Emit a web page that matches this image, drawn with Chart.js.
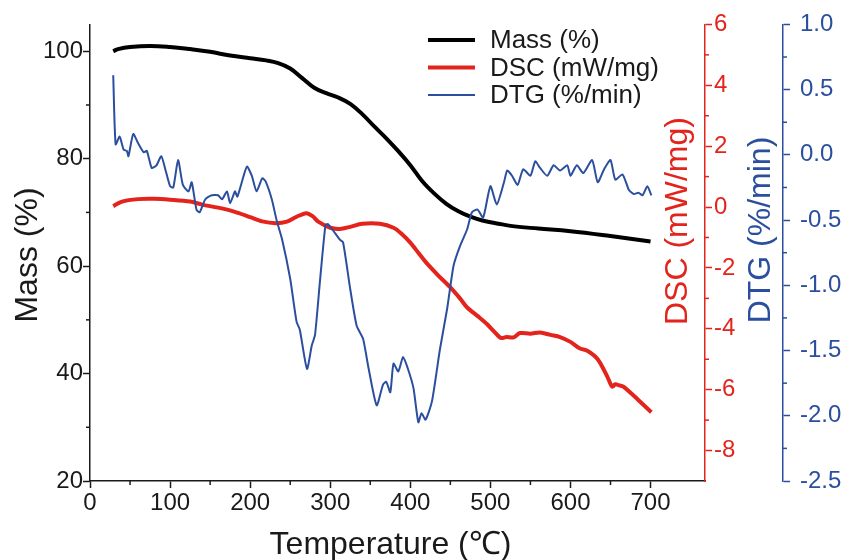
<!DOCTYPE html>
<html>
<head>
<meta charset="utf-8">
<script src="https://cdn.jsdelivr.net/npm/chart.js@4.4.1/dist/chart.umd.min.js"></script>
<style>
html, body { margin: 0; padding: 0; background: #fff; }
</style>
</head>
<body>
<canvas id="tga" width="850" height="560"></canvas>
<script>
// values (temperature in degC)

const massT   = [29, 35, 50, 75, 100, 125, 150, 175, 200, 220, 235, 250, 265, 280, 295, 310, 325, 340, 355, 370, 385, 400, 415, 430, 445, 460, 475, 490, 510, 530, 560, 600, 650, 700];
const massVal = [100.0, 100.4, 100.8, 101.0, 100.8, 100.4, 99.9, 99.2, 98.7, 98.3, 97.8, 96.8, 95.0, 93.2, 92.2, 91.4, 90.2, 88.3, 86.0, 83.8, 81.4, 78.8, 75.8, 73.5, 71.6, 70.2, 69.2, 68.5, 67.9, 67.4, 67.0, 66.5, 65.6, 64.6];

const dscT   = [29, 40, 60, 80, 100, 125, 140, 160, 180, 200, 215, 232, 246, 258, 270, 278, 285, 300, 312, 325, 340, 362, 379, 390, 400, 410, 421, 435, 450, 462, 471, 485, 496, 505, 513, 520, 529, 537, 550, 562, 575, 587, 600, 612, 621, 634, 646, 652, 656, 660, 666, 684, 701];
const dscVal = [0.03, 0.18, 0.26, 0.27, 0.24, 0.18, 0.08, -0.02, -0.15, -0.33, -0.47, -0.53, -0.48, -0.32, -0.2, -0.3, -0.48, -0.68, -0.72, -0.65, -0.55, -0.55, -0.68, -0.9, -1.17, -1.5, -1.86, -2.25, -2.64, -3.0, -3.3, -3.6, -3.85, -4.1, -4.3, -4.27, -4.28, -4.14, -4.16, -4.12, -4.2, -4.27, -4.43, -4.65, -4.72, -5.0, -5.57, -5.9, -5.82, -5.85, -5.9, -6.32, -6.74];

const dtgT   = [29, 32, 37, 42, 46, 48, 54, 60, 67, 71, 77, 83, 89, 94, 100, 104, 110, 116, 123, 127, 133, 137, 144, 152, 160, 165, 171, 175, 181, 184, 190, 196, 202, 208, 215, 219, 227, 233, 240, 250, 258, 262, 271, 277, 281, 287, 294, 297, 306, 312, 316, 325, 333, 341, 348, 358, 366, 370, 375, 379, 385, 391, 397, 404, 410, 414, 419, 427, 437, 446, 454, 462, 471, 477, 484, 491, 500, 508, 517, 521, 527, 534, 541, 550, 556, 562, 571, 579, 587, 596, 600, 608, 616, 627, 634, 642, 650, 656, 665, 673, 679, 685, 690, 696, 701];
const dtgVal = [0.61, 0.08, 0.14, 0.04, 0.03, -0.01, 0.16, 0.09, 0.02, 0.03, -0.1, -0.08, -0.01, -0.11, -0.24, -0.25, -0.04, -0.23, -0.28, -0.21, -0.42, -0.44, -0.34, -0.31, -0.31, -0.34, -0.28, -0.37, -0.28, -0.32, -0.2, -0.09, -0.16, -0.28, -0.18, -0.2, -0.34, -0.5, -0.65, -0.95, -1.28, -1.34, -1.64, -1.46, -1.38, -0.98, -0.54, -0.53, -0.6, -0.65, -0.67, -1.03, -1.31, -1.41, -1.64, -1.92, -1.76, -1.74, -1.82, -1.6, -1.66, -1.55, -1.64, -1.79, -2.05, -1.98, -2.03, -1.89, -1.49, -1.18, -0.85, -0.7, -0.57, -0.44, -0.42, -0.48, -0.24, -0.38, -0.21, -0.12, -0.16, -0.23, -0.11, -0.16, -0.05, -0.1, -0.16, -0.08, -0.12, -0.08, -0.16, -0.08, -0.14, -0.04, -0.21, -0.11, -0.04, -0.19, -0.15, -0.27, -0.3, -0.29, -0.31, -0.24, -0.31];

// tick labels (major) and unlabeled minor ticks
const xTicks    = [0, 100, 200, 300, 400, 500, 600, 700];
const xMinor    = [50, 150, 250, 350, 450, 550, 650];
const massTicks = [20, 40, 60, 80, 100];
const massMinor = [30, 50, 70, 90];
const dscTicks  = [6, 4, 2, 0, -2, -4, -6, -8];
const dscMinor  = [5, 3, 1, -1, -3, -5, -7];
const dtgTicks  = [1.0, 0.5, 0.0, -0.5, -1.0, -1.5, -2.0, -2.5];
const dtgMinor  = [0.75, 0.25, -0.25, -0.75, -1.25, -1.75, -2.25];

const FONT = '"Liberation Sans", Arial, sans-serif';
const INK = '#1a1a1a';
const RED = '#e3241c';
const BLUE = '#2b4f9e';

function pairs(xs, ys) {
	return xs.map((x, i) => ({x: x, y: ys[i]}));
}

function setTicks(list) {
	return function(scale) { scale.ticks = list.map(v => ({value: v})); };
}

function setWidth(w) {
	return function(scale) { scale.width = w; };
}

function axis(color, list, min, max, pos, w, weight, fmt, pad) {
	return {
		type: 'linear', position: pos, min: min, max: max, weight: weight,
		afterBuildTicks: setTicks(list),
		afterFit: setWidth(w),
		border: {display: true, color: color, width: 1.5},
		grid: {drawOnChartArea: false, drawTicks: true, tickLength: 7, color: color, tickWidth: 1.5},
		ticks: {color: color, padding: pad, font: {size: 24, family: FONT}, callback: fmt}
	};
}

// minor ticks, titles and the legend drawn on top
const extras = {
	id: 'extras',
	afterDraw(chart) {
		const ctx = chart.ctx;
		const s = chart.scales;
		ctx.save();
		ctx.lineWidth = 1.5;

		ctx.strokeStyle = INK;
		xMinor.forEach(v => { const p = s.x.getPixelForValue(v); line(ctx, p, s.x.top, p, s.x.top + 4); });
		massMinor.forEach(v => { const p = s.y.getPixelForValue(v); line(ctx, s.y.right - 4, p, s.y.right, p); });
		ctx.strokeStyle = RED;
		dscMinor.forEach(v => { const p = s.y1.getPixelForValue(v); line(ctx, s.y1.left, p, s.y1.left + 4, p); });
		ctx.strokeStyle = BLUE;
		dtgMinor.forEach(v => { const p = s.y2.getPixelForValue(v); line(ctx, s.y2.left, p, s.y2.left + 4, p); });

		// axis titles
		ctx.font = '32px ' + FONT;
		ctx.textAlign = 'center';
		ctx.textBaseline = 'middle';
		ctx.fillStyle = INK;
		ctx.fillText('Temperature (\u2103)', (chart.chartArea.left + chart.chartArea.right) / 2 - 7, s.x.top + 64);
		vtext(ctx, 'Mass (%)', s.y.left + 28, 255, INK);
		vtext(ctx, 'DSC (mW/mg)', s.y1.left - 27, 221, RED);
		vtext(ctx, 'DTG (%/min)', s.y2.left - 22, 230, BLUE);

		// legend
		ctx.font = '26px ' + FONT;
		ctx.textAlign = 'left';
		chart.data.datasets.forEach((d, i) => {
			const y = 40 + i * 27.5;
			ctx.strokeStyle = d.borderColor;
			ctx.lineWidth = d.borderWidth;
			line(ctx, 428, y, 475, y);
			ctx.fillStyle = INK;
			ctx.fillText(d.label, 490, y + 1);
		});
		ctx.restore();
	}
};

function line(ctx, x0, y0, x1, y1) {
	ctx.beginPath();
	ctx.moveTo(x0, y0);
	ctx.lineTo(x1, y1);
	ctx.stroke();
}

function vtext(ctx, txt, x, y, color) {
	ctx.save();
	ctx.translate(x, y);
	ctx.rotate(-Math.PI / 2);
	ctx.fillStyle = color;
	ctx.fillText(txt, 0, 0);
	ctx.restore();
}

new Chart(document.getElementById('tga'), {
	type: 'line',
	data: {
		datasets: [
			{label: 'Mass (%)', data: pairs(massT, massVal), yAxisID: 'y', borderColor: '#000', borderWidth: 4, tension: 0.4, order: 2},
			{label: 'DSC (mW/mg)', data: pairs(dscT, dscVal), yAxisID: 'y1', borderColor: RED, borderWidth: 4, tension: 0.3, order: 3},
			{label: 'DTG (%/min)', data: pairs(dtgT, dtgVal), yAxisID: 'y2', borderColor: BLUE, borderWidth: 2, tension: 0.2, order: 1}
		]
	},
	options: {
		responsive: false,
		animation: false,
		parsing: true,
		layout: {padding: {top: 22, left: 0, right: 0, bottom: 0}},
		elements: {point: {radius: 0}},
		plugins: {legend: {display: false}, tooltip: {enabled: false}},
		scales: {
			x: {
				type: 'linear', position: 'bottom', min: 0, max: 768,
				afterBuildTicks: setTicks(xTicks),
				afterFit: function(scale) { scale.height = 79; },
				border: {display: true, color: INK, width: 1.5},
				grid: {drawOnChartArea: false, drawTicks: true, tickLength: 7, color: INK, tickWidth: 1.5},
				ticks: {color: INK, padding: 1, maxRotation: 0, font: {size: 24, family: FONT}, callback: v => String(v)}
			},
			y: axis(INK, massTicks, 20, 105, 'left', 90, 0, v => String(v), 0),
			y1: axis(RED, dscTicks, -9, 6, 'right', 78, 0, v => String(v), 2),
			y2: axis(BLUE, dtgTicks, -2.5, 1.0, 'right', 67, 1, v => v.toFixed(1), 10)
		}
	},
	plugins: [extras]
});
</script>
</body>
</html>
